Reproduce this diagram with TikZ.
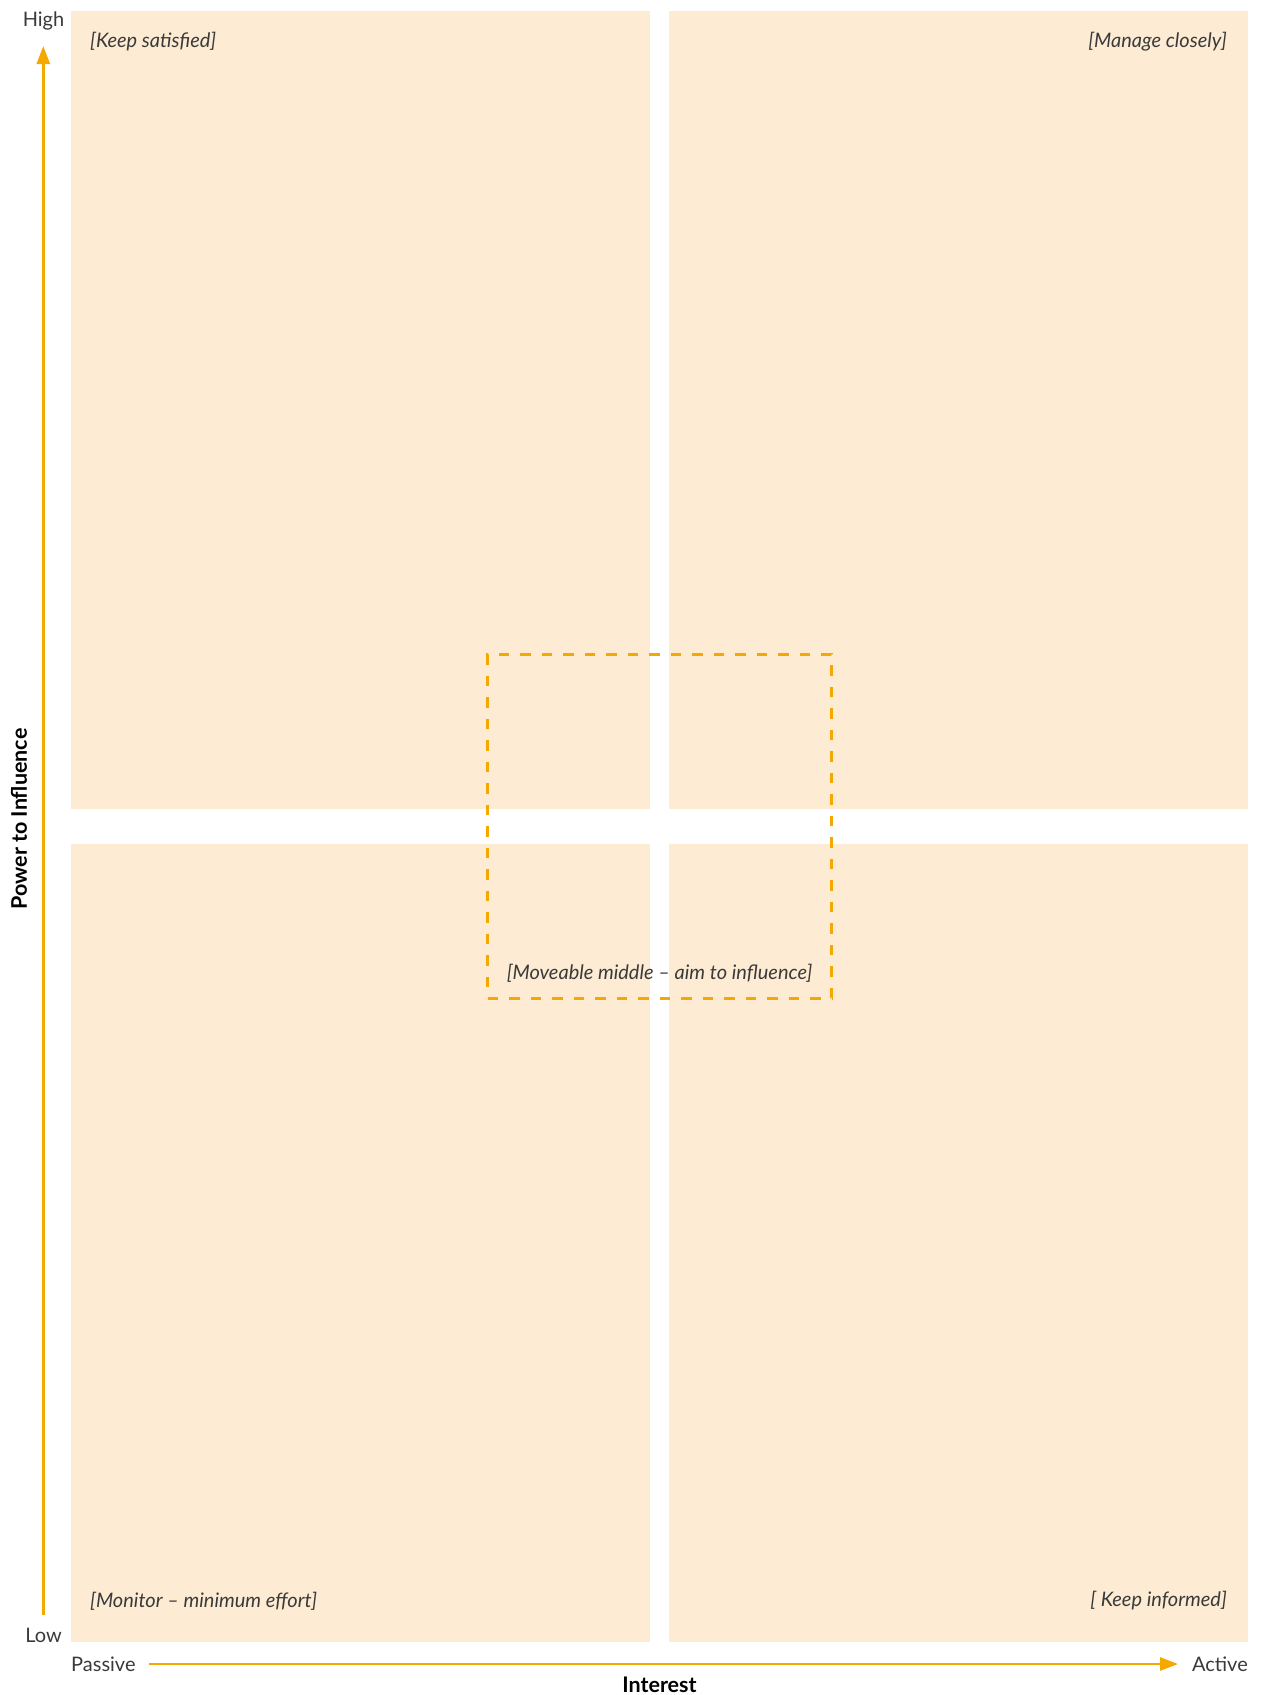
\documentclass[tikz,border=0pt]{standalone}
\usepackage{fontspec}
\setmainfont{Lato}
\usetikzlibrary{arrows.meta}
\definecolor{quad}{HTML}{FDEBD4}
\definecolor{accent}{HTML}{F5A800}
\definecolor{txt}{HTML}{3A3A3A}
\tikzset{
  quadbox/.style={fill=quad, draw=none, minimum width=579pt, minimum height=798pt, inner sep=0pt, anchor=north west},
  midbox/.style={draw=accent, line width=2.6pt, dash pattern=on 10.5pt off 11pt, minimum width=344pt, minimum height=344pt, inner sep=0pt},
  qlabel/.style={font=\fontsize{20}{24}\selectfont\itshape, text=txt, inner sep=0pt},
  axlabel/.style={font=\fontsize{20}{24}\selectfont, text=txt, inner sep=0pt},
  axtitle/.style={font=\fontsize{21.5}{25}\selectfont\bfseries, text=black, inner sep=0pt},
  axis/.style={draw=accent, line width=2.8pt, -{Triangle[length=18pt,width=13pt]}}
}
\begin{document}
\begin{tikzpicture}[x=1pt,y=-1pt]
\useasboundingbox (0,0) rectangle (1262,1695);
\node[quadbox] (tl) at (71,11) {};
\node[quadbox] (tr) at (669,11) {};
\node[quadbox] (bl) at (71,844) {};
\node[quadbox] (br) at (669,844) {};
\node[midbox] (mid) at (659.5,826.3) {};
\node[qlabel, anchor=west] (ks) at (90,42) {[Keep satisfied]};
\node[qlabel, anchor=east] (mc) at (1227,42) {[Manage closely]};
\node[qlabel, anchor=west] (mo) at (90,1601) {[Monitor – minimum effort]};
\node[qlabel, anchor=east] (ki) at (1227,1601) {[ Keep informed]};
\node[qlabel] (mm) at (659.5,973) {[Moveable middle – aim to influence]};
\node[axlabel] (high) at (43.5,21) {High};
\node[axlabel] (low) at (43.5,1635) {Low};
\node[axlabel, anchor=west] (passive) at (71,1664) {Passive};
\node[axlabel, anchor=east] (active) at (1248,1664) {Active};
\node[axtitle] (interest) at (659.5,1685) {Interest};
\node[axtitle, rotate=90] (power) at (19,819) {Power to Influence};
\coordinate (vs) at (43.3,1615);
\coordinate (ve) at (43.3,46);
\coordinate (hs) at (149,1664);
\coordinate (he) at (1178,1664);
\draw[axis] (vs) -- (ve);
\draw[axis] (hs) -- (he);
\end{tikzpicture}
\end{document}
